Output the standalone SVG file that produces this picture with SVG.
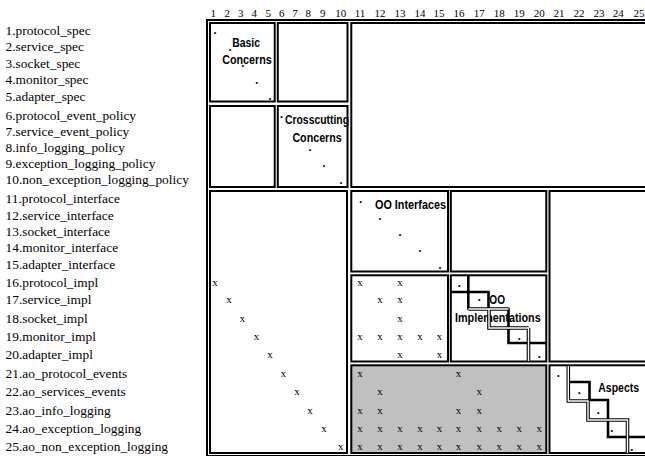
<svg xmlns="http://www.w3.org/2000/svg" width="645" height="456" viewBox="0 0 645 456">
<style>
.lbl{font-family:"Liberation Serif","Times New Roman",serif;font-size:13.4px;fill:#000}
.hdr{font-family:"Liberation Serif","Times New Roman",serif;font-size:11px;text-anchor:middle;fill:#000}
.xm{font-family:"Liberation Serif","Times New Roman",serif;font-size:11px;text-anchor:middle;fill:#000}
.dt{font-family:"Liberation Serif","Times New Roman",serif;font-size:12px;font-weight:bold;text-anchor:middle;fill:#000}
.ttl{font-family:"Liberation Sans",Arial,sans-serif;font-size:12px;font-weight:bold;fill:#000}
.blk{fill:#fff;stroke:#000;stroke-width:2}
.grey{fill:#c0c0c0;stroke:#000;stroke-width:2}
.frame{fill:#fff;stroke:#000;stroke-width:2}
.thick{fill:none;stroke:#000;stroke-width:2.6;stroke-linecap:square}
.dblo{fill:none;stroke:#000;stroke-width:3.6}
.dbli{fill:none;stroke:#fff;stroke-width:1.4}
</style>
<rect width="645" height="456" fill="#fff"/>
<g id="header">
<text class="hdr" x="213.3" y="17.3">1</text><text class="hdr" x="227.3" y="17.3">2</text><text class="hdr" x="240.7" y="17.3">3</text><text class="hdr" x="254.3" y="17.3">4</text><text class="hdr" x="268.3" y="17.3">5</text><text class="hdr" x="281.7" y="17.3">6</text><text class="hdr" x="295" y="17.3">7</text><text class="hdr" x="308.3" y="17.3">8</text><text class="hdr" x="322.7" y="17.3">9</text><text class="hdr" x="340.7" y="17.3">10</text><text class="hdr" x="360" y="17.3">11</text><text class="hdr" x="380" y="17.3">12</text><text class="hdr" x="400" y="17.3">13</text><text class="hdr" x="420" y="17.3">14</text><text class="hdr" x="439" y="17.3">15</text><text class="hdr" x="459" y="17.3">16</text><text class="hdr" x="479.3" y="17.3">17</text><text class="hdr" x="499.3" y="17.3">18</text><text class="hdr" x="519.3" y="17.3">19</text><text class="hdr" x="539.3" y="17.3">20</text><text class="hdr" x="559" y="17.3">21</text><text class="hdr" x="579" y="17.3">22</text><text class="hdr" x="599" y="17.3">23</text><text class="hdr" x="618.3" y="17.3">24</text><text class="hdr" x="639" y="17.3">25</text>
</g>
<g id="labels">
<text class="lbl" x="5.5" y="35.2">1.protocol_spec</text>
<text class="lbl" x="5.5" y="51.2">2.service_spec</text>
<text class="lbl" x="5.5" y="67.5">3.socket_spec</text>
<text class="lbl" x="5.5" y="84.2">4.monitor_spec</text>
<text class="lbl" x="5.5" y="100.8">5.adapter_spec</text>
<text class="lbl" x="5.5" y="119.5">6.protocol_event_policy</text>
<text class="lbl" x="5.5" y="136.2">7.service_event_policy</text>
<text class="lbl" x="5.5" y="152.2">8.info_logging_policy</text>
<text class="lbl" x="5.5" y="167.8">9.exception_logging_policy</text>
<text class="lbl" x="5.5" y="184.2">10.non_exception_logging_policy</text>
<text class="lbl" x="5.5" y="202.8">11.protocol_interface</text>
<text class="lbl" x="5.5" y="219.5">12.service_interface</text>
<text class="lbl" x="5.5" y="235.5">13.socket_interface</text>
<text class="lbl" x="5.5" y="251.8">14.monitor_interface</text>
<text class="lbl" x="5.5" y="268.5">15.adapter_interface</text>
<text class="lbl" x="5.5" y="286.5">16.protocol_impl</text>
<text class="lbl" x="5.5" y="303.8">17.service_impl</text>
<text class="lbl" x="5.5" y="322.7">18.socket_impl</text>
<text class="lbl" x="5.5" y="340.8">19.monitor_impl</text>
<text class="lbl" x="5.5" y="358.9">20.adapter_impl</text>
<text class="lbl" x="5.5" y="377.8">21.ao_protocol_events</text>
<text class="lbl" x="5.5" y="396.2">22.ao_services_events</text>
<text class="lbl" x="5.5" y="414.7">23.ao_info_logging</text>
<text class="lbl" x="5.5" y="433.3">24.ao_exception_logging</text>
<text class="lbl" x="5.5" y="451.4">25.ao_non_exception_logging</text>
</g>
<g id="frame"><rect class="frame" x="207" y="20" width="450" height="436"/></g>
<g id="basic-concerns">
<rect class="blk" x="210" y="23" width="64.7" height="78.5"/>
<text class="ttl" x="232.3" y="46.7" textLength="27.7" lengthAdjust="spacingAndGlyphs">Basic</text>
<text class="ttl" x="222.3" y="64" textLength="49.4" lengthAdjust="spacingAndGlyphs">Concerns</text>
<text class="dt" x="215" y="34">.</text><text class="dt" x="230" y="51.4">.</text><text class="dt" x="242.7" y="67.4">.</text><text class="dt" x="256.7" y="84">.</text><text class="dt" x="270" y="100">.</text>
</g>
<g id="block-1-6"><rect class="blk" x="277.8" y="23" width="69.7" height="78.5"/></g>
<g id="block-1-11"><rect class="blk" x="351.3" y="23" width="300" height="164"/></g>
<g id="block-6-1"><rect class="blk" x="210" y="106" width="64.7" height="81"/></g>
<g id="crosscutting-concerns">
<rect class="blk" x="277.8" y="106" width="69.7" height="81"/>
<text class="ttl" x="285" y="123.7" textLength="64" lengthAdjust="spacingAndGlyphs">Crosscutting</text>
<text class="ttl" x="292.4" y="141.7" textLength="49.4" lengthAdjust="spacingAndGlyphs">Concerns</text>
<text class="dt" x="281.5" y="118.2">.</text><text class="dt" x="310" y="151.2">.</text><text class="dt" x="324" y="167.2">.</text><text class="dt" x="341" y="184">.</text>
</g>
<g id="block-11-1">
<rect class="blk" x="210" y="191" width="137" height="262"/>
<text class="xm" x="215" y="285.8">x</text><text class="xm" x="229" y="302.5">x</text><text class="xm" x="242.5" y="321.8">x</text><text class="xm" x="256.5" y="340">x</text><text class="xm" x="270" y="358">x</text><text class="xm" x="283.5" y="376.7">x</text><text class="xm" x="297" y="395.2">x</text><text class="xm" x="310" y="413.8">x</text><text class="xm" x="324" y="432.2">x</text><text class="xm" x="340.7" y="450.3">x</text>
</g>
<g id="oo-interfaces">
<rect class="blk" x="351.3" y="191" width="96.7" height="80.5"/>
<text class="ttl" x="375" y="209.3" textLength="71" lengthAdjust="spacingAndGlyphs">OO Interfaces</text>
<text class="dt" x="360.7" y="203.4">.</text><text class="dt" x="380" y="219.7">.</text><text class="dt" x="400" y="235.7">.</text><text class="dt" x="420" y="252.4">.</text><text class="dt" x="440" y="269">.</text>
</g>
<g id="block-11-16"><rect class="blk" x="450.8" y="191" width="95.5" height="80.5"/></g>
<g id="block-11-21"><rect class="blk" x="549.5" y="191" width="100" height="170.5"/></g>
<g id="block-16-11">
<rect class="blk" x="351.3" y="275.3" width="96.7" height="86.2"/>
<text class="xm" x="360" y="285.8">x</text><text class="xm" x="400" y="285.8">x</text>
<text class="xm" x="380" y="302.5">x</text><text class="xm" x="400" y="302.5">x</text>
<text class="xm" x="400" y="321.8">x</text>
<text class="xm" x="360" y="340">x</text><text class="xm" x="380" y="340">x</text><text class="xm" x="400" y="340">x</text><text class="xm" x="420" y="340">x</text><text class="xm" x="439.5" y="340">x</text>
<text class="xm" x="400" y="358">x</text><text class="xm" x="439.5" y="358">x</text>
</g>
<g id="oo-implementations">
<rect class="blk" x="450.8" y="275.3" width="95.5" height="86.2"/>
<text class="ttl" x="489.3" y="303.7" textLength="15.7" lengthAdjust="spacingAndGlyphs">OO</text>
<text class="ttl" x="455" y="321.7" textLength="85.7" lengthAdjust="spacingAndGlyphs">Implementations</text>
<text class="dt" x="459.3" y="287.4">.</text><text class="dt" x="479.3" y="300.7">.</text><text class="dt" x="519.3" y="340">.</text><text class="dt" x="539.3" y="358">.</text>
<path class="thick" d="M451.8 292 H488.5 M468.3 276.3 V308.5 M488.5 292 V309.5 M508.5 309 V343 H545.3"/>
<path class="dblo" d="M468.3 309 H508.5 M489 309 V328 H528.5 M528.5 328 V361"/>
<path class="dbli" d="M468.3 309 H508.5 M489 309 V328 H528.5 M528.5 328 V361"/>
</g>
<g id="block-21-11">
<rect class="grey" x="351.3" y="365.3" width="195" height="87.7"/>
<text class="xm" x="360" y="376.7">x</text><text class="xm" x="458.5" y="376.7">x</text>
<text class="xm" x="380" y="395.2">x</text><text class="xm" x="479.3" y="395.2">x</text>
<text class="xm" x="360" y="413.8">x</text><text class="xm" x="380" y="413.8">x</text><text class="xm" x="458.5" y="413.8">x</text><text class="xm" x="479.3" y="413.8">x</text>
<text class="xm" x="360" y="432.2">x</text><text class="xm" x="380" y="432.2">x</text><text class="xm" x="400" y="432.2">x</text><text class="xm" x="420" y="432.2">x</text><text class="xm" x="439.5" y="432.2">x</text><text class="xm" x="458.5" y="432.2">x</text><text class="xm" x="479.3" y="432.2">x</text><text class="xm" x="499.3" y="432.2">x</text><text class="xm" x="519.3" y="432.2">x</text><text class="xm" x="539.3" y="432.2">x</text>
<text class="xm" x="360" y="450.3">x</text><text class="xm" x="380" y="450.3">x</text><text class="xm" x="400" y="450.3">x</text><text class="xm" x="420" y="450.3">x</text><text class="xm" x="439.5" y="450.3">x</text><text class="xm" x="458.5" y="450.3">x</text><text class="xm" x="479.3" y="450.3">x</text><text class="xm" x="499.3" y="450.3">x</text><text class="xm" x="519.3" y="450.3">x</text><text class="xm" x="539.3" y="450.3">x</text>
</g>
<g id="aspects">
<rect class="blk" x="549.5" y="365.3" width="100" height="87.7"/>
<text class="ttl" x="598.3" y="392" textLength="40.7" lengthAdjust="spacingAndGlyphs">Aspects</text>
<text class="dt" x="558.3" y="376.7">.</text><text class="dt" x="579.3" y="394">.</text><text class="dt" x="598.3" y="414">.</text><text class="dt" x="611.7" y="432.4">.</text><text class="dt" x="631.7" y="450.7">.</text>
<path class="thick" d="M569.5 382 H589.5 V400 H608 V437 H645"/>
<path class="dblo" d="M568.3 366 V401 H588 V420 H627.5 V453"/>
<path class="dbli" d="M568.3 366 V401 H588 V420 H627.5 V453"/>
</g>
</svg>
